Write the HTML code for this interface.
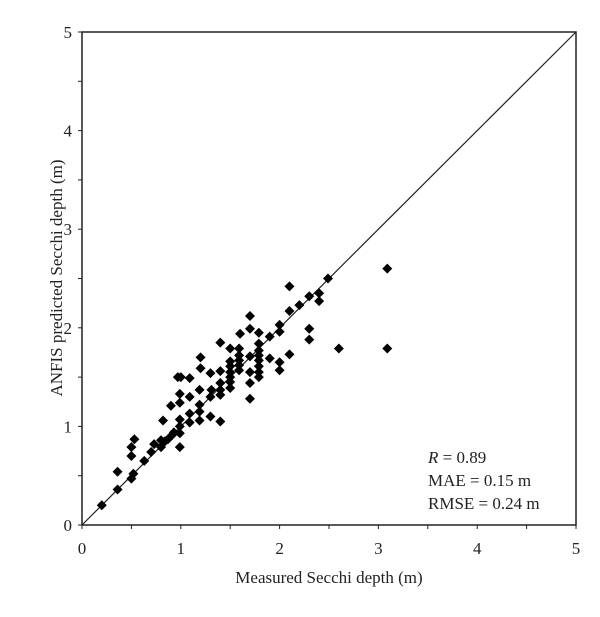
<!DOCTYPE html>
<html><head><meta charset="utf-8"><style>
body{margin:0;background:#fff;}
svg text{font-family:"Liberation Serif",serif;fill:#222;}
</style></head><body>
<svg width="600" height="612" viewBox="0 0 600 612" xmlns="http://www.w3.org/2000/svg">
<rect x="0" y="0" width="600" height="612" fill="#fff"/>
<g id="plot"></g>
</svg>
<script>
const xs=[0.20,0.36,0.36,0.50,0.52,0.50,0.50,0.53,0.63,0.70,0.73,0.80,0.80,0.84,0.87,0.91,0.93,0.82,0.90,0.99,0.99,0.99,0.99,0.99,0.99,0.97,1.00,1.09,1.09,1.09,1.09,1.19,1.19,1.19,1.19,1.20,1.20,1.30,1.30,1.31,1.30,1.40,1.40,1.40,1.40,1.40,1.40,1.50,1.50,1.50,1.50,1.50,1.50,1.50,1.59,1.59,1.59,1.59,1.59,1.60,1.70,1.70,1.70,1.70,1.70,1.70,1.79,1.79,1.79,1.79,1.79,1.79,1.79,1.79,1.90,1.90,2.00,2.00,2.00,2.00,2.10,2.10,2.10,2.20,2.30,2.30,2.30,2.40,2.40,2.49,3.09,3.09,2.60];
const ys=[0.20,0.36,0.54,0.47,0.52,0.70,0.79,0.87,0.65,0.74,0.82,0.79,0.86,0.85,0.87,0.91,0.94,1.06,1.21,0.79,0.93,1.00,1.07,1.24,1.33,1.50,1.50,1.49,1.30,1.13,1.04,1.06,1.15,1.22,1.37,1.59,1.70,1.10,1.30,1.37,1.54,1.05,1.32,1.37,1.44,1.56,1.85,1.39,1.45,1.50,1.55,1.61,1.66,1.79,1.57,1.62,1.67,1.72,1.79,1.94,1.28,1.44,1.55,1.71,1.99,2.12,1.50,1.55,1.61,1.67,1.72,1.77,1.84,1.95,1.69,1.91,1.57,1.65,1.96,2.03,1.73,2.17,2.42,2.23,2.32,1.99,1.88,2.35,2.27,2.50,2.60,1.79,1.79];
const xTicks=[0,1,2,3,4,5];
const yTicks=[0,1,2,3,4,5];
const NS="http://www.w3.org/2000/svg";
const X0=82,X1=576,Y0=525,Y1=32;
function sx(v){return X0+(X1-X0)*v/5;}
function sy(v){return Y0-(Y0-Y1)*v/5;}
const g=document.getElementById('plot');
function mk(t,a){const e=document.createElementNS(NS,t);for(const k in a)e.setAttribute(k,a[k]);g.appendChild(e);return e;}
let e;
e=mk('rect',{x:X0,y:Y1,width:X1-X0,height:Y0-Y1,fill:'none',stroke:'#222','stroke-width':1.5});


e=mk('line',{x1:sx(0),y1:sy(0),x2:sx(5),y2:sy(5),stroke:'#222','stroke-width':1.2});


for(let i=0;i<=10;i++){const v=i/2;
 e=mk('line',{x1:sx(v),y1:Y0,x2:sx(v),y2:Y0+4,stroke:'#222','stroke-width':1});
 
 
 e=mk('line',{x1:X0-4,y1:sy(v),x2:X0,y2:sy(v),stroke:'#222','stroke-width':1});
 
 
}
xTicks.forEach(v=>{e=mk('text',{x:sx(v),y:554,'text-anchor':'middle','font-size':17});e.textContent=v;
 
 });
yTicks.forEach(v=>{e=mk('text',{x:72,y:sy(v)+6,'text-anchor':'end','font-size':17});e.textContent=v;
 
 });
xs.forEach((x,i)=>{const cx=sx(x),cy=sy(ys[i]),r=5;
 e=mk('polygon',{points:`${cx},${cy-r} ${cx+r},${cy} ${cx},${cy+r} ${cx-r},${cy}`,fill:'#000'});
 
 });
e=mk('text',{x:329,y:583,'text-anchor':'middle','font-size':17});e.textContent='Measured Secchi depth (m)';


e=mk('text',{x:0,y:0,'text-anchor':'middle','font-size':17,transform:'translate(62,278) rotate(-90)'});e.textContent='ANFIS predicted Secchi depth (m)';


const stats=[['R = 0.89',463],['MAE = 0.15 m',486],['RMSE = 0.24 m',509]];
stats.forEach((s,i)=>{e=mk('text',{x:428,y:s[1],'font-size':17});
 if(i===0){e.innerHTML='<tspan font-style="italic">R</tspan> = 0.89';}else e.textContent=s[0];
 
 });
</script>
</body></html>
